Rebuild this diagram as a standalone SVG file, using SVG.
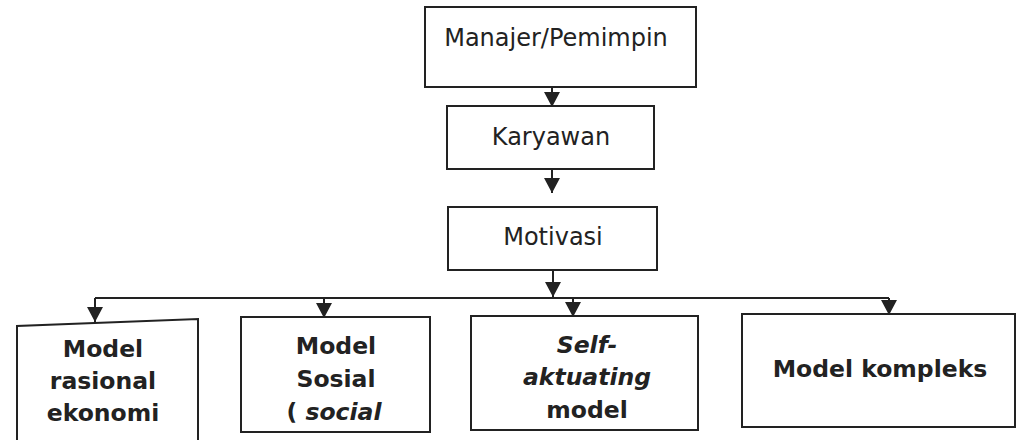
<svg xmlns="http://www.w3.org/2000/svg" width="1018" height="440" viewBox="0 0 1018 440">
<defs>
<style>
.box{fill:#fff;stroke:#222;stroke-width:2}
.t{font-family:"DejaVu Sans",Verdana,sans-serif;font-size:24px;fill:#222;text-anchor:middle}
.b{font-family:"DejaVu Sans",Verdana,sans-serif;font-size:23.5px;font-weight:bold;fill:#222;text-anchor:middle}
.i{font-style:italic}
.c{fill:none;stroke:#222;stroke-width:2}
</style>
<marker id="ah" markerUnits="userSpaceOnUse" markerWidth="15" markerHeight="16" refX="15" refY="8" orient="auto">
<path d="M0,0 L15,8 L0,16 z" fill="#222"/>
</marker>
</defs>
<rect width="1018" height="440" fill="#fff"/>
<g id="n-manajer">
<rect class="box" x="425" y="7" width="271" height="80"/>
<text class="t" x="556" y="46">Manajer/Pemimpin</text>
</g>
<g id="n-karyawan">
<rect class="box" x="447" y="106" width="207" height="63"/>
<text class="t" x="551" y="145">Karyawan</text>
</g>
<g id="n-motivasi">
<rect class="box" x="448" y="207" width="209" height="63"/>
<text class="t" x="553" y="245">Motivasi</text>
</g>
<g id="n-rasional">
<path class="box" d="M17,445 L17,326 L198,319 L198,445"/>
<text class="b" x="103" y="357">Model</text>
<text class="b" x="103" y="389">rasional</text>
<text class="b" x="103" y="421">ekonomi</text>
</g>
<g id="n-sosial">
<rect class="box" x="241" y="317" width="189" height="115"/>
<text class="b" x="336" y="354">Model</text>
<text class="b" x="336" y="387">Sosial</text>
<text class="b" x="334" y="420">( <tspan class="i">social</tspan></text>
</g>
<g id="n-self">
<rect class="box" x="471" y="316" width="227" height="114"/>
<text class="b i" x="587" y="353">Self-</text>
<text class="b i" x="587" y="385">aktuating</text>
<text class="b" x="587" y="418">model</text>
</g>
<g id="n-kompleks">
<rect class="box" x="742" y="314" width="273" height="113"/>
<text class="b" x="880" y="377">Model kompleks</text>
</g>
<g id="connectors">
<line class="c" x1="552" y1="87" x2="552" y2="107" marker-end="url(#ah)"/>
<line class="c" x1="552" y1="169" x2="552" y2="193" marker-end="url(#ah)"/>
<line class="c" x1="553" y1="270" x2="553" y2="297" marker-end="url(#ah)"/>
<polyline class="c" points="95,298 889,298"/>
<line class="c" x1="95" y1="298" x2="95" y2="322" marker-end="url(#ah)"/>
<line class="c" x1="324" y1="298" x2="324" y2="318" marker-end="url(#ah)"/>
<line class="c" x1="573" y1="298" x2="573" y2="317" marker-end="url(#ah)"/>
<line class="c" x1="889" y1="298" x2="889" y2="315" marker-end="url(#ah)"/>
</g>
</svg>
